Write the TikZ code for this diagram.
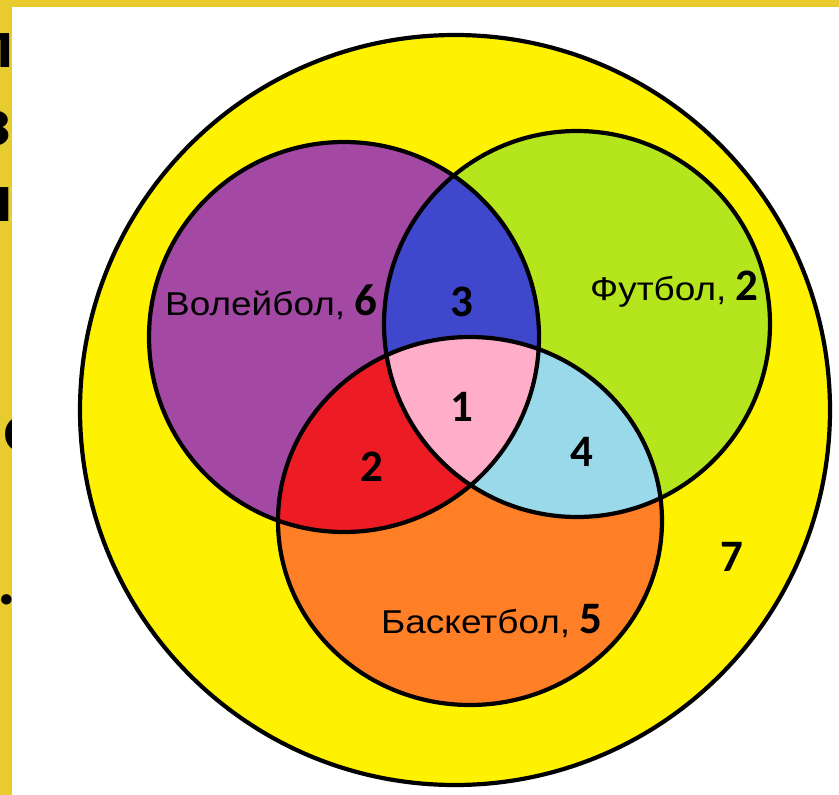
\documentclass[tikz,border=0pt]{standalone}
\usepackage{fontspec}
\setmainfont{Liberation Sans}
\newfontfamily\digitfont{Carlito}

% MS Paint palette
\definecolor{framegold}{HTML}{E8CB2F}
\definecolor{bigyellow}{HTML}{FFF200}
\definecolor{vpurple}{HTML}{A349A4}
\definecolor{flime}{HTML}{B5E61D}
\definecolor{borange}{HTML}{FF7F27}
\definecolor{vfblue}{HTML}{3F48CC}
\definecolor{vbred}{HTML}{ED1C24}
\definecolor{fbcyan}{HTML}{99D9EA}
\definecolor{allpink}{HTML}{FFAEC9}

\newcommand\dg[1]{{\digitfont\bfseries\fontsize{45}{45}\selectfont #1}}
\newcommand\setname[2]{\scalebox{1.12}[1]{#1}\hspace{9pt}\dg{#2}}

% the three sets
\def\vcirc{(344,337) circle [radius=195pt]}
\def\fcirc{(577,324) circle [radius=193pt]}
\def\bcirc{(470,521) ellipse [x radius=192pt, y radius=184pt]}
\def\ucirc{(455,410) circle [radius=375pt]}

\tikzset{
  outline/.style={draw=black, line width=4.2pt},
  lbl/.style={inner sep=0pt, font=\fontsize{33}{36}\selectfont},
  digit/.style={inner sep=0pt, font=\digitfont\bfseries\fontsize{45}{45}\selectfont},
  slidefrag/.style={inner sep=0pt, font=\digitfont\bfseries\fontsize{70}{70}\selectfont},
}

\begin{document}
\begin{tikzpicture}[x=1pt, y=-1pt]
\useasboundingbox (0,0) rectangle (839,795);

% slide frame and the text lying under the picture
\fill[framegold] (0,0) rectangle (839,795);
\node[slidefrag, anchor=base east] (fragA) at (13,67) {ол};
\node[slidefrag, anchor=base east] (fragB) at (12,145) {з};
\node[slidefrag, anchor=base east] (fragC) at (13,221) {п};
\node[slidefrag, anchor=base west] (fragD) at (3,451) {о};
\node[slidefrag, anchor=base east] (fragE) at (16,604) {к.};
\fill[white] (12,7) rectangle (839,795);

% universe
\fill[bigyellow] \ucirc;
\draw[outline] \ucirc;

% single sets
\fill[vpurple] \vcirc;
\fill[flime] \fcirc;
\fill[borange] \bcirc;

% pairwise overlaps
\begin{scope}
  \clip \vcirc;
  \fill[vfblue] \fcirc;
  \fill[vbred] \bcirc;
\end{scope}
\begin{scope}
  \clip \fcirc;
  \fill[fbcyan] \bcirc;
\end{scope}
% triple overlap
\begin{scope}
  \clip \vcirc;
  \clip \fcirc;
  \fill[allpink] \bcirc;
\end{scope}

\draw[outline] \vcirc;
\draw[outline] \fcirc;
\draw[outline] \bcirc;

% labels
\node[lbl, anchor=base west] (volley) at (165,315) {\setname{Волейбол,}{6}};
\node[lbl, anchor=base west] (foot) at (590,300) {\setname{Футбол,}{2}};
\node[lbl, anchor=base west] (basket) at (381,633) {\setname{Баскетбол,}{5}};

\node[digit] (nVF) at (462,302) {3};
\node[digit] (nVFB) at (462,407) {1};
\node[digit] (nVB) at (372,467) {2};
\node[digit] (nFB) at (582,452) {4};
\node[digit] (nOut) at (732,557) {7};
\end{tikzpicture}
\end{document}
